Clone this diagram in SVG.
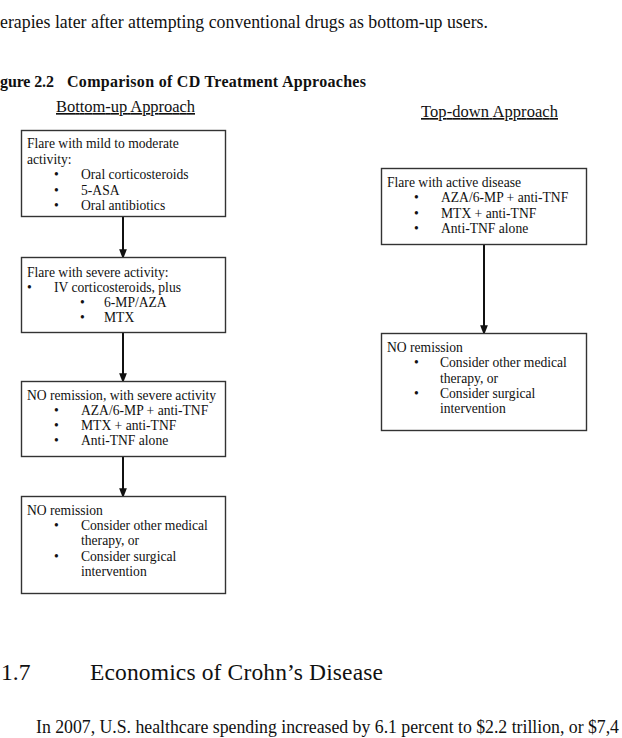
<svg xmlns="http://www.w3.org/2000/svg" width="622" height="738" viewBox="0 0 622 738">
<defs>
<marker id="arr" markerWidth="10" markerHeight="13" refX="10" refY="5" orient="auto" markerUnits="userSpaceOnUse" viewBox="0 0 13 10">
<path d="M0,0 L13,5 L0,10 Z" fill="#111"/>
</marker>
<style>
text{font-family:"Liberation Serif","Times New Roman",serif;fill:#111;}
.t{font-size:13.6px;}
.body{font-size:17.8px;}
.b{font-weight:bold;font-size:16px;}
.h{font-size:16.5px;text-decoration:underline;}
.box{fill:#fff;stroke:#333;stroke-width:1.4;}
.con{stroke:#111;stroke-width:2;fill:none;}
</style>
</defs>
<rect width="622" height="738" fill="#fff"/>
<text class="body" x="0" y="28" textLength="488">erapies later after attempting conventional drugs as bottom-up users.</text>
<text class="b" x="0" y="87" textLength="54">gure 2.2</text>
<text class="b" x="67" y="87" textLength="299">Comparison of CD Treatment Approaches</text>
<text class="h" x="56" y="112" textLength="139">Bottom-up Approach</text>
<text class="h" x="421" y="117" textLength="137">Top-down Approach</text>

<g id="connectors">
<line class="con" x1="123" y1="217" x2="123" y2="257" marker-end="url(#arr)"/>
<line class="con" x1="123" y1="333" x2="123" y2="381" marker-end="url(#arr)"/>
<line class="con" x1="123" y1="457" x2="123" y2="496" marker-end="url(#arr)"/>
<line class="con" x1="484" y1="245" x2="484" y2="333" marker-end="url(#arr)"/>
</g>

<g id="bu1">
<rect class="box" x="21.5" y="130.5" width="204" height="86"/>
<text class="t" x="27" y="148">Flare with mild to moderate</text>
<text class="t" x="27" y="164">activity:</text>
<text class="t" x="54" y="179">•</text><text class="t" x="81" y="179">Oral corticosteroids</text>
<text class="t" x="54" y="195">•</text><text class="t" x="81" y="195">5-ASA</text>
<text class="t" x="54" y="210">•</text><text class="t" x="81" y="210">Oral antibiotics</text>
</g>

<g id="bu2">
<rect class="box" x="21.5" y="257.5" width="204" height="75"/>
<text class="t" x="27" y="277">Flare with severe activity:</text>
<text class="t" x="27" y="292">•</text><text class="t" x="54" y="292">IV corticosteroids, plus</text>
<text class="t" x="80" y="307">•</text><text class="t" x="104" y="307">6-MP/AZA</text>
<text class="t" x="80" y="322">•</text><text class="t" x="104" y="322">MTX</text>
</g>

<g id="bu3">
<rect class="box" x="21.5" y="381.5" width="204" height="75"/>
<text class="t" x="27" y="400">NO remission, with severe activity</text>
<text class="t" x="54" y="415">•</text><text class="t" x="81" y="415">AZA/6-MP + anti-TNF</text>
<text class="t" x="54" y="430">•</text><text class="t" x="81" y="430">MTX + anti-TNF</text>
<text class="t" x="54" y="445">•</text><text class="t" x="81" y="445">Anti-TNF alone</text>
</g>

<g id="bu4">
<rect class="box" x="21.5" y="496.5" width="204" height="97"/>
<text class="t" x="27" y="515">NO remission</text>
<text class="t" x="54" y="530">•</text><text class="t" x="81" y="530">Consider other medical</text>
<text class="t" x="81" y="545">therapy, or</text>
<text class="t" x="54" y="561">•</text><text class="t" x="81" y="561">Consider surgical</text>
<text class="t" x="81" y="576">intervention</text>
</g>

<g id="td1">
<rect class="box" x="381.5" y="168.5" width="205" height="76"/>
<text class="t" x="387" y="187">Flare with active disease</text>
<text class="t" x="414" y="202">•</text><text class="t" x="441" y="202">AZA/6-MP + anti-TNF</text>
<text class="t" x="414" y="218">•</text><text class="t" x="441" y="218">MTX + anti-TNF</text>
<text class="t" x="414" y="233">•</text><text class="t" x="441" y="233">Anti-TNF alone</text>
</g>

<g id="td2">
<rect class="box" x="381.5" y="333.5" width="205" height="97"/>
<text class="t" x="387" y="352">NO remission</text>
<text class="t" x="414" y="367">•</text><text class="t" x="440" y="367">Consider other medical</text>
<text class="t" x="440" y="383">therapy, or</text>
<text class="t" x="414" y="398">•</text><text class="t" x="440" y="398">Consider surgical</text>
<text class="t" x="440" y="413">intervention</text>
</g>

<text x="1" y="680" style="font-size:23.5px">1.7</text>
<text x="90" y="680" style="font-size:23.5px" textLength="293">Economics of Crohn’s Disease</text>
<text class="body" x="36" y="733" textLength="583">In 2007, U.S. healthcare spending increased by 6.1 percent to $2.2 trillion, or $7,4</text>
</svg>
